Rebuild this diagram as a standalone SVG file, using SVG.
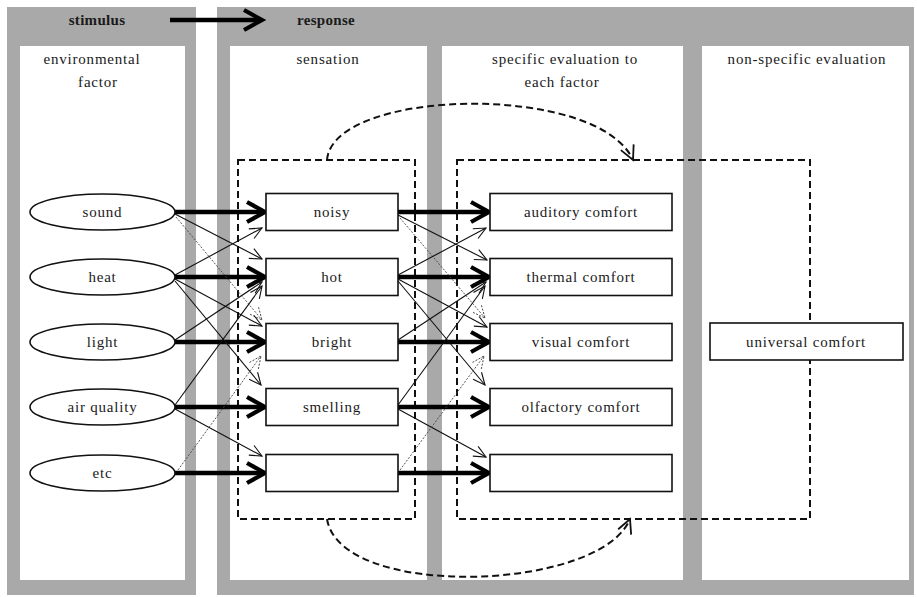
<svg xmlns="http://www.w3.org/2000/svg" width="917" height="597" viewBox="0 0 917 597">
<defs>
<style>
.panel{fill:#a9a9a9}
.inner{fill:#ffffff}
text{font-family:"Liberation Serif","Times New Roman",serif;font-size:15px;fill:#1a1a1a;text-anchor:middle;letter-spacing:0.8px}
.hdr{font-weight:bold;letter-spacing:0.3px}
.node rect,.node ellipse{fill:#fff;stroke:#111;stroke-width:1.6}
.thick{stroke:#000;stroke-width:4.5;fill:none}
.thin{stroke:#111;stroke-width:1.1;fill:none}
.dot{stroke:#444;stroke-width:0.9;fill:none;stroke-dasharray:2 1.5}
.dash{stroke:#111;stroke-width:2;fill:none;stroke-dasharray:7 4}
</style>
<marker id="ahThick" markerUnits="userSpaceOnUse" markerWidth="24" markerHeight="26" refX="19" refY="12" orient="auto" overflow="visible">
<path d="M2,2 L20,12 L2,22" fill="none" stroke="#000" stroke-width="4.2"/>
</marker>
<marker id="ahThin" markerUnits="userSpaceOnUse" markerWidth="14" markerHeight="12" refX="12" refY="6" orient="auto" overflow="visible">
<path d="M0,0.5 L12,6 L0,11.5" fill="none" stroke="#111" stroke-width="1.1"/>
</marker>
<marker id="ahDot" markerUnits="userSpaceOnUse" markerWidth="14" markerHeight="12" refX="12" refY="6" orient="auto" overflow="visible">
<path d="M0,0.5 L12,6 L0,11.5" fill="none" stroke="#444" stroke-width="0.9" stroke-dasharray="2 1.5"/>
</marker>
<marker id="ahDash" markerUnits="userSpaceOnUse" markerWidth="16" markerHeight="16" refX="14" refY="8" orient="auto" overflow="visible">
<path d="M0,1 L14,8 L0,15" fill="none" stroke="#111" stroke-width="1.8"/>
</marker>
</defs>

<g id="background">
<rect class="panel" x="7" y="7" width="189" height="588"/>
<rect class="inner" x="20" y="46" width="165" height="534"/>
<rect class="panel" x="217" y="7" width="697" height="588"/>
<rect class="inner" x="230" y="46" width="197" height="534"/>
<rect class="inner" x="442" y="46" width="241" height="534"/>
<rect class="inner" x="702" y="46" width="207" height="534"/>
</g>

<g id="headers">
<text class="hdr" x="97" y="25">stimulus</text>
<text class="hdr" x="326" y="25">response</text>
<text x="92" y="64">environmental</text>
<text x="98" y="87">factor</text>
<text x="328" y="64">sensation</text>
<text x="565" y="64">specific evaluation to</text>
<text x="562" y="87">each factor</text>
<text x="807" y="64">non-specific evaluation</text>
</g>

<g id="groups">
<rect class="dash" x="238" y="160" width="177" height="359"/>
<rect class="dash" x="457" y="160" width="353" height="359"/>
</g>

<g id="connectors">
<line class="thick" x1="170" y1="20" x2="261" y2="20" marker-end="url(#ahThick)"/>
<path class="dash" d="M327,160 C333,88 598,82 633,160" marker-end="url(#ahDash)"/>
<path class="dash" d="M327,519 C340,600 600,592 630,519" marker-end="url(#ahDash)"/>
<!-- thick left -->
<line class="thick" x1="175" y1="212" x2="264" y2="212" marker-end="url(#ahThick)"/>
<line class="thick" x1="175" y1="277" x2="264" y2="277" marker-end="url(#ahThick)"/>
<line class="thick" x1="175" y1="342" x2="264" y2="342" marker-end="url(#ahThick)"/>
<line class="thick" x1="175" y1="407" x2="264" y2="407" marker-end="url(#ahThick)"/>
<line class="thick" x1="175" y1="473" x2="264" y2="473" marker-end="url(#ahThick)"/>
<!-- thick right -->
<line class="thick" x1="398" y1="212" x2="488" y2="212" marker-end="url(#ahThick)"/>
<line class="thick" x1="398" y1="277" x2="488" y2="277" marker-end="url(#ahThick)"/>
<line class="thick" x1="398" y1="342" x2="488" y2="342" marker-end="url(#ahThick)"/>
<line class="thick" x1="398" y1="407" x2="488" y2="407" marker-end="url(#ahThick)"/>
<line class="thick" x1="398" y1="473" x2="488" y2="473" marker-end="url(#ahThick)"/>
<!-- thin left -->
<line class="thin" x1="175" y1="214" x2="262" y2="259" marker-end="url(#ahThin)"/>
<line class="dot" x1="176" y1="217" x2="262" y2="320" marker-end="url(#ahDot)"/>
<line class="thin" x1="175" y1="275" x2="262" y2="228" marker-end="url(#ahThin)"/>
<line class="thin" x1="175" y1="279" x2="262" y2="326" marker-end="url(#ahThin)"/>
<line class="thin" x1="175" y1="281" x2="261" y2="385" marker-end="url(#ahThin)"/>
<line class="thin" x1="175" y1="340" x2="262" y2="282" marker-end="url(#ahThin)"/>
<line class="thin" x1="175" y1="405" x2="262" y2="286" marker-end="url(#ahThin)"/>
<line class="thin" x1="175" y1="409" x2="262" y2="456" marker-end="url(#ahThin)"/>
<line class="dot" x1="178" y1="470" x2="261" y2="356" marker-end="url(#ahDot)"/>
<!-- thin right -->
<line class="thin" x1="398" y1="215" x2="487" y2="260" marker-end="url(#ahThin)"/>
<line class="dot" x1="400" y1="218" x2="485" y2="318" marker-end="url(#ahDot)"/>
<line class="thin" x1="398" y1="275" x2="486" y2="228" marker-end="url(#ahThin)"/>
<line class="thin" x1="398" y1="279" x2="487" y2="327" marker-end="url(#ahThin)"/>
<line class="thin" x1="398" y1="281" x2="485" y2="385" marker-end="url(#ahThin)"/>
<line class="thin" x1="398" y1="340" x2="486" y2="282" marker-end="url(#ahThin)"/>
<line class="thin" x1="398" y1="405" x2="485" y2="286" marker-end="url(#ahThin)"/>
<line class="thin" x1="398" y1="409" x2="486" y2="457" marker-end="url(#ahThin)"/>
<line class="dot" x1="400" y1="470" x2="484" y2="356" marker-end="url(#ahDot)"/>
</g>

<g id="n-sound" class="node"><ellipse cx="102.5" cy="212" rx="72.5" ry="18"/><text x="102.5" y="217">sound</text></g>
<g id="n-heat" class="node"><ellipse cx="102.5" cy="277" rx="72.5" ry="18"/><text x="102.5" y="282">heat</text></g>
<g id="n-light" class="node"><ellipse cx="102.5" cy="342" rx="72.5" ry="18"/><text x="102.5" y="347">light</text></g>
<g id="n-air" class="node"><ellipse cx="102.5" cy="407" rx="72.5" ry="18"/><text x="102.5" y="412">air quality</text></g>
<g id="n-etc" class="node"><ellipse cx="102.5" cy="473" rx="72.5" ry="18"/><text x="102.5" y="478">etc</text></g>

<g id="n-noisy" class="node"><rect x="266" y="193.5" width="132" height="37"/><text x="332" y="217">noisy</text></g>
<g id="n-hot" class="node"><rect x="266" y="258.5" width="132" height="37"/><text x="332" y="282">hot</text></g>
<g id="n-bright" class="node"><rect x="266" y="323.5" width="132" height="37"/><text x="332" y="347">bright</text></g>
<g id="n-smelling" class="node"><rect x="266" y="388.5" width="132" height="37"/><text x="332" y="412">smelling</text></g>
<g id="n-sens-blank" class="node"><rect x="266" y="454.5" width="132" height="37"/></g>

<g id="n-auditory" class="node"><rect x="490" y="193.5" width="182" height="37"/><text x="581" y="217">auditory comfort</text></g>
<g id="n-thermal" class="node"><rect x="490" y="258.5" width="182" height="37"/><text x="581" y="282">thermal comfort</text></g>
<g id="n-visual" class="node"><rect x="490" y="323.5" width="182" height="37"/><text x="581" y="347">visual comfort</text></g>
<g id="n-olfactory" class="node"><rect x="490" y="388.5" width="182" height="37"/><text x="581" y="412">olfactory comfort</text></g>
<g id="n-comf-blank" class="node"><rect x="490" y="454.5" width="182" height="37"/></g>

<g id="n-universal" class="node"><rect x="710" y="323" width="193" height="37"/><text x="806" y="347">universal comfort</text></g>
</svg>
